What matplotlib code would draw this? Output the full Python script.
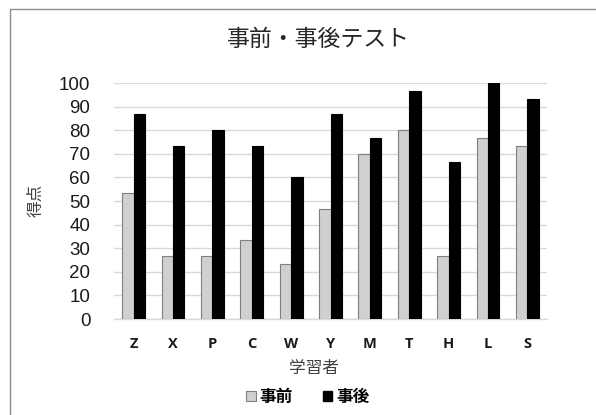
import matplotlib
matplotlib.use("Agg")
import matplotlib.pyplot as plt
import numpy as np
from matplotlib.patches import Rectangle

learners = ["Z", "X", "P", "C", "W", "Y", "M", "T", "H", "L", "S"]
pre_scores = [53.3, 26.7, 26.7, 33.3, 23.3, 46.7, 70, 80, 26.7, 76.7, 73.3]
post_scores = [86.7, 73.3, 80, 73.3, 60, 86.7, 76.7, 96.7, 66.7, 100, 93.3]
yticks = list(range(0, 101, 10))
title = "事前・事後テスト"
series_names = ["事前", "事後"]

W, H = 596, 415
fig = plt.figure(figsize=(W/100, H/100), dpi=100)
jp = ["Noto Sans CJK JP", "DejaVu Sans"]

# chart border
fig.patches.append(Rectangle((10/W, -0.1), 1.2, 1 - 9/H + 0.1, transform=fig.transFigure,
                             fill=False, edgecolor="#8c8c8c", linewidth=1.0))

ax = fig.add_axes([114/W, 1 - 319/H, (547-114)/W, (319-83)/H])
x = np.arange(len(learners))
bw = 0.29
ax.bar(x - bw/2, pre_scores, bw, color="#d0d0d0", edgecolor="#7f7f7f", linewidth=0.8, zorder=3)
ax.bar(x + bw/2, post_scores, bw, color="#000000", edgecolor="#000000", linewidth=0.8, zorder=3)
ax.set_xlim(-0.5, len(learners) - 0.5)
ax.set_ylim(0, 100)
ax.set_yticks(yticks)
ax.set_yticklabels([str(v) for v in yticks], fontfamily="Liberation Sans", fontsize=13.5, color="#1a1a1a")
ax.set_xticks(x)
ax.set_xticklabels(learners, fontfamily="Open Sans", fontweight="bold", fontsize=10.5, color="#1a1a1a")
ax.tick_params(axis="y", length=0, pad=17)
ax.tick_params(axis="x", length=0, pad=13)
ax.grid(axis="y", color="#d9d9d9", linewidth=1.0, zorder=0)
for s in ["top", "right", "left"]:
    ax.spines[s].set_visible(False)
ax.spines["bottom"].set_color("#d9d9d9")
ax.spines["bottom"].set_linewidth(1.0)

fig.text(318/W, 1 - 39/H, title, ha="center", va="center", fontsize=16.5, family=jp, color="#262626")
fig.text(314/W, 1 - 368/H, "学習者", ha="center", va="center", fontsize=12, family=jp, color="#404040")
fig.text(36/W, 1 - 200/H, "得点", ha="center", va="center", rotation=90, fontsize=12, family=jp, color="#404040")

handles = [Rectangle((0, 0), 1, 1, facecolor="#d0d0d0", edgecolor="#7f7f7f", linewidth=0.8),
           Rectangle((0, 0), 1, 1, facecolor="#000000", edgecolor="#000000")]
leg = fig.legend(handles, series_names, loc="center", bbox_to_anchor=(308/W, 1 - 397/H),
                 ncol=2, frameon=False, handlelength=0.55, handleheight=0.55, handletextpad=0.25,
                 columnspacing=1.8, prop={"family": jp, "weight": "bold", "size": 12})

fig.savefig("out.png", dpi=100)
